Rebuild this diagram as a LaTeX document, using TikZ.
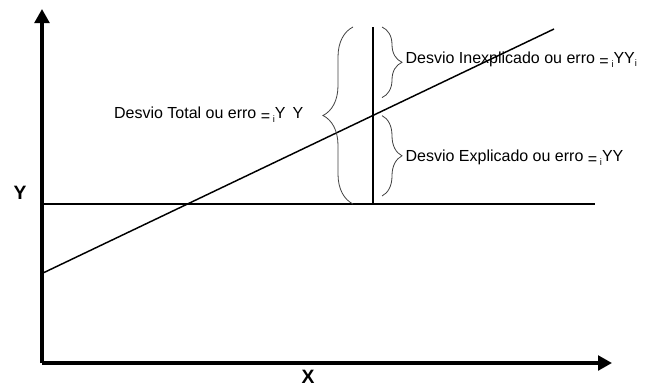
\documentclass[tikz,border=0pt]{standalone}
\usepackage{fontspec}
\setmainfont{Liberation Sans}
\usetikzlibrary{positioning,calc,arrows.meta,decorations.pathreplacing}

\begin{document}
\begin{tikzpicture}[x=0.75pt,y=-0.75pt]

% ---- Styles ----
\tikzset{
  axis/.style={line width=2.5pt, -{Triangle[length=10.5pt,width=11pt]}},
  meanline/.style={line width=1.9pt},
  regline/.style={line width=1.1pt},
  vline/.style={line width=2pt},
  brace/.style={decorate, draw=black!75, line width=0.6pt,
                decoration={brace, amplitude=#1}},
  lbl/.style={font=\fontsize{12}{14}\selectfont, inner sep=1pt},
  axlbl/.style={font=\fontsize{14.5}{16}\selectfont\bfseries, inner sep=0pt},
}

\useasboundingbox (0,0) rectangle (645,389);

% --- Axes ---
\coordinate (O) at (42,363);
\coordinate (ytip) at (42,9);
\coordinate (xtip) at (612,363);
\draw[axis] (O) -- (ytip);
\draw[axis] (O) -- (xtip);
\node[axlbl] (ylab) at (20,193) {Y};
\node[axlbl] (xlab) at (308,377) {X};

% --- Mean line and regression line ---
\coordinate (mA) at (42,204);
\coordinate (mB) at (595,204);
\draw[meanline] (mA) -- (mB);
\coordinate (rA) at (43,273);
\coordinate (rB) at (554,29);
\draw[regline] (rA) -- (rB);

% --- Vertical deviation ---
\coordinate (vT) at (373,27);
\coordinate (vB) at (373,204);
\coordinate (vM) at (373,115.6);
\draw[vline] (vT) -- (vB);

% --- Braces ---
\draw[brace=22.5pt] ($(vB)+(-20,0)$) -- ($(vT)+(-20,0)$);
\draw[brace=15pt] ($(vT)+(9,0)$) -- ($(vM)+(9,-18)$);
\draw[brace=15pt] ($(vM)+(9,0)$) -- ($(vB)+(9,-8)$);

% --- Labels ---
\node[lbl, anchor=east] (total) at (305,115)
  {Desvio Total ou erro \raisebox{-2pt}{=}\,\raisebox{-3pt}{\scriptsize i}Y\ \,Y};
\node[lbl, anchor=west] (unexpl) at (404,60)
  {Desvio Inexplicado ou erro \raisebox{-2pt}{=}\,\raisebox{-3pt}{\scriptsize i}YY\raisebox{-2pt}{\scriptsize i}};
\node[lbl, anchor=west] (expl) at (404,158)
  {Desvio Explicado ou erro \raisebox{-2pt}{=}\,\raisebox{-3pt}{\scriptsize i}YY};

\end{tikzpicture}
\end{document}
